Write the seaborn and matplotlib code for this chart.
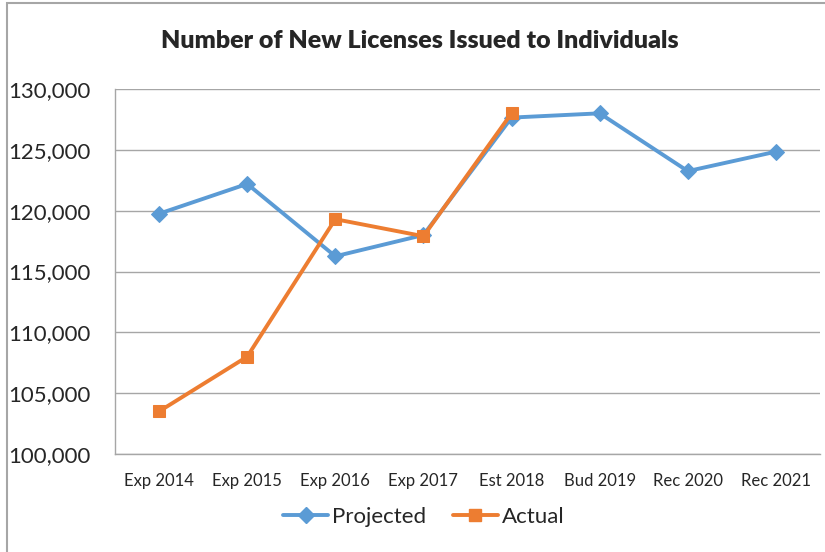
import numpy as np
import pandas as pd
import matplotlib
matplotlib.use("Agg")
import matplotlib.pyplot as plt
import seaborn as sns
from matplotlib.ticker import FuncFormatter, FixedLocator
from matplotlib.lines import Line2D
from matplotlib.patches import Rectangle

years = ['Exp 2014', 'Exp 2015', 'Exp 2016', 'Exp 2017', 'Est 2018',
         'Bud 2019', 'Rec 2020', 'Rec 2021']
projected = [119750, 122200, 116250, 118000, 127650, 128000, 123250, 124850]
actual = [103500, 108000, 119300, 117900, 128000]

blue = '#5B9BD5'
orange = '#ED7D31'
grey = '#A6A6A6'

sns.set_style('white')
plt.rcParams['font.family'] = ['Lato', 'DejaVu Sans']

# %%
df = pd.concat([
    pd.DataFrame({'year': years, 'value': projected, 'series': 'Projected'}),
    pd.DataFrame({'year': years[:len(actual)], 'value': actual, 'series': 'Actual'}),
])
df['x'] = df['year'].map({y: i for i, y in enumerate(years)})

fig = plt.figure(figsize=(8.25, 5.52), dpi=100)
ax = fig.add_axes([115 / 825, 1 - 454 / 552, 705 / 825, 365 / 552])

sns.lineplot(data=df[df.series == 'Projected'], x='x', y='value', ax=ax,
             color=blue, lw=2.8, marker='D', markersize=8.3, mec=blue,
             legend=False, zorder=3)
sns.lineplot(data=df[df.series == 'Actual'], x='x', y='value', ax=ax,
             color=orange, lw=2.8, marker='s', markersize=9.3, mec=orange,
             legend=False, zorder=4)

ax.set_xlim(-0.5, len(years) - 0.5)
ax.set_ylim(100000, 130000)
ax.set_yticks(np.arange(100000, 130001, 5000))
ax.yaxis.set_major_formatter(FuncFormatter(lambda v, p: f'{int(v):,}'))
ax.set_xticks(range(len(years)))
ax.set_xticklabels(years)
ax.xaxis.set_minor_locator(FixedLocator(np.arange(-0.5, len(years), 1)))
ax.tick_params(axis='x', which='major', length=0, pad=14, labelsize=12)
ax.tick_params(axis='x', which='minor', length=4.3, width=1, color=grey)
ax.tick_params(axis='y', length=4.3, width=1, color=grey, labelsize=16, pad=13)
ax.set_xlabel('')
ax.set_ylabel('')

ax.yaxis.grid(True, color=grey, lw=1)
ax.set_axisbelow(True)
for s in ['top', 'right']:
    ax.spines[s].set_visible(False)
for s in ['left', 'bottom']:
    ax.spines[s].set_color(grey)
    ax.spines[s].set_linewidth(1)

fig.text(420 / 825, 1 - 41 / 552, 'Number of New Licenses Issued to Individuals',
         ha='center', va='center', fontsize=18, fontweight='heavy')

handles = [Line2D([], [], color=blue, lw=2.8, marker='D', markersize=8.3, mec=blue),
           Line2D([], [], color=orange, lw=2.8, marker='s', markersize=9.3, mec=orange)]
fig.legend(handles, ['Projected', 'Actual'], loc='center', ncol=2,
           bbox_to_anchor=(424 / 825, 1 - 517 / 552), frameon=False,
           fontsize=16, handlelength=2.0, handletextpad=0.2, columnspacing=1.2)

fig.patches.append(Rectangle((7 / 825, -0.1), 1.0, 1 - 3 / 552 + 0.1,
                             transform=fig.transFigure, fill=False,
                             edgecolor=grey, lw=1.5))

fig.savefig('out.png', dpi=100)
